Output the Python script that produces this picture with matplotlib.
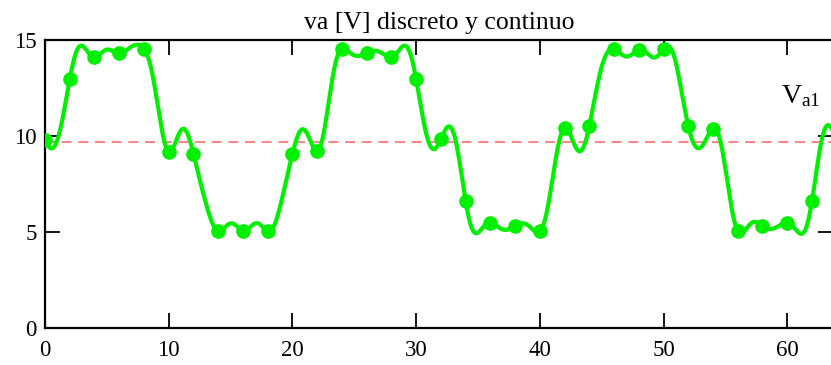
import numpy as np
import matplotlib
matplotlib.use("Agg")
import matplotlib.pyplot as plt

plt.rcParams['font.family'] = ['Liberation Serif', 'DejaVu Serif']
plt.rcParams['mathtext.fontset'] = 'custom'
plt.rcParams['mathtext.rm'] = 'Liberation Serif'

# discrete samples of va [V]
n_samp = [0, 2, 4, 6, 8, 10, 12, 14, 16, 18, 20, 22, 24, 26, 28, 30,
          32, 34, 36, 38, 40, 42, 44, 46, 48, 50, 52, 54, 56, 58, 60, 62]
va = [9.8, 12.96, 14.1, 14.3, 14.55, 9.18, 9.07, 5.04, 5.06, 5.04, 9.08, 9.2, 14.55, 14.3, 14.1, 12.96,
      9.82, 6.61, 5.48, 5.3, 5.02, 10.4, 10.52, 14.53, 14.48, 14.53, 10.52, 10.38, 5.04, 5.3, 5.46, 6.61]

# continuous curve, read at every integer t (0..63)
t_cont = list(range(64))
va_cont = [9.8, 9.8, 12.96, 14.7, 14.1, 14.5, 14.3, 14.66, 14.55, 12.05,
           9.18, 10.3, 9.07, 6.5, 5.04, 5.44, 5.06, 5.44, 5.04, 6.3,
           9.08, 10.3, 9.2, 12.05, 14.55, 14.2, 14.3, 14.4, 14.1, 14.7,
           12.96, 9.7, 9.82, 10.2, 6.61, 4.95, 5.48, 5.12, 5.3, 5.36,
           5.02, 7.65, 10.4, 9.3, 10.52, 13.6, 14.53, 14.14, 14.48, 14.14,
           14.53, 13.8, 10.52, 9.4, 10.38, 8.3, 5.04, 5.4, 5.3, 5.2,
           5.46, 4.92, 6.61, 10.3]

va_mean_line = 9.7
title = 'va [V] discreto y continuo'
xticks = [0, 10, 20, 30, 40, 50, 60]
yticks = [0, 5, 10, 15]

# smooth (periodic, band-limited) rendering of the read curve values
M = len(va_cont)
pad = 32
spec = np.fft.fft(va_cont)
big = np.zeros(M * pad, dtype=complex)
big[:M // 2] = spec[:M // 2]
big[-M // 2 + 1:] = spec[-M // 2 + 1:]
big[M // 2] = spec[M // 2] / 2
big[-M // 2] = spec[M // 2] / 2
t_fine = np.arange(M * pad) / pad * (t_cont[1] - t_cont[0])
v_fine = np.real(np.fft.ifft(big)) * pad

fig = plt.figure(figsize=(8.31, 3.65), dpi=100)
ax = fig.add_axes([45 / 831, 1 - 327.7 / 365, 788 / 831, 287.7 / 365])

green = '#00f000'
ax.plot(t_fine, v_fine, color=green, lw=3, zorder=3)
ax.plot(n_samp, va, 'o', color=green, ms=9.5, zorder=4)
ax.axhline(va_mean_line, color='#ff6e6e', lw=1.2, ls=(0, (6, 4)), zorder=2)

ax.set_xlim(0, 63.7)
ax.set_ylim(0, 15)
ax.set_xticks(xticks)
ax.set_yticks(yticks)
ax.tick_params(direction='in', length=11, width=1.3, top=True, right=True,
               labelsize=16.5, pad=6)
ax.tick_params(axis='x', pad=9)
for s in ax.spines.values():
    s.set_linewidth(1.6)

ax.set_title(title, fontsize=18.5, pad=8)
ax.text(59.5, 11.7, r'$\mathrm{V_{a1}}$', fontsize=20, ha='left', va='baseline')

fig.savefig('out.png', dpi=100)
